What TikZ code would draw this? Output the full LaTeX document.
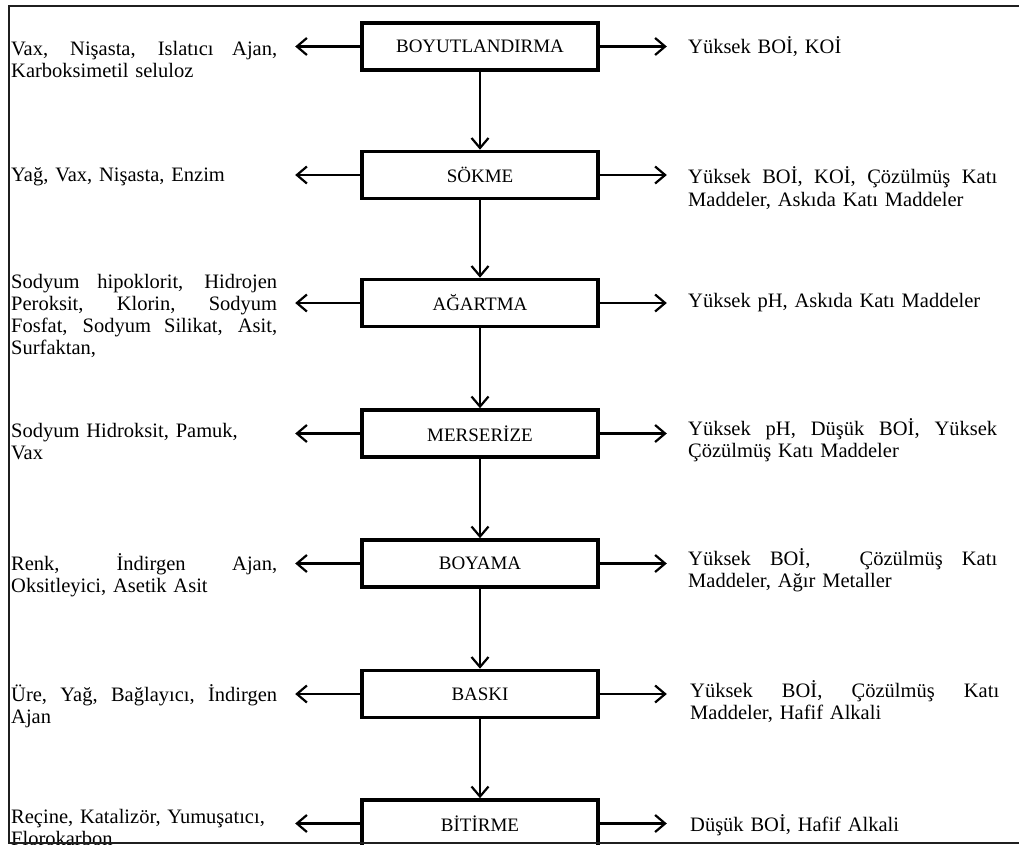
\documentclass[tikz,border=0pt]{standalone}
\usepackage{fontspec}
\setmainfont{Liberation Serif}
\usetikzlibrary{arrows.meta}
\newcommand{\JL}[1]{{\spaceskip=0pt\xspaceskip=0pt\makebox[266pt][s]{#1}}}
\newcommand{\JR}[1]{{\spaceskip=0pt\xspaceskip=0pt\makebox[309pt][s]{#1}}}
\begin{document}
\begin{tikzpicture}[x=1pt,y=-1pt,
  stage/.style={draw, line width=3.6pt, minimum width=236pt, minimum height=47pt, inner sep=0pt, font=\fontsize{19}{22}\selectfont},
  flow/.style={line width=2.2pt, -{Straight Barb[length=10pt,width=17pt]}},
  sidetext/.style={anchor=base west, inner sep=0pt, align=left, font=\fontsize{20.5}{22}\selectfont},
  lefttext/.style={sidetext, text width=266pt},
  righttext/.style={sidetext, text width=309pt},
  frameline/.style={line width=2pt, draw=black!88}]
\useasboundingbox (0,0) rectangle (1019,845);
\clip (0,0) rectangle (1019,845);
\fill[white] (0,0) rectangle (1019,845);

% stages
\node[stage] (b1) at (480,46.5) {BOYUTLANDIRMA};
\node[stage] (b2) at (480,175) {SÖKME};
\node[stage] (b3) at (480,303) {AĞARTMA};
\node[stage] (b4) at (480,433.5) {MERSERİZE};
\node[stage] (b5) at (480,563.5) {BOYAMA};
\node[stage] (b6) at (480,694) {BASKI};
\node[stage] (b7) at (480,823.5) {BİTİRME};

% vertical flow
\draw[flow] (b1) -- (b2);
\draw[flow] (b2) -- (b3);
\draw[flow] (b3) -- (b4);
\draw[flow] (b4) -- (b5);
\draw[flow] (b5) -- (b6);
\draw[flow] (b6) -- (b7);

% arrow ends
\foreach \i in {1,...,7}{
  \coordinate (l\i) at ([xshift=-65pt]b\i.west);
  \coordinate (r\i) at ([xshift=67pt]b\i.east);
  \draw[flow] (b\i.west) -- (l\i);
  \draw[flow] (b\i.east) -- (r\i);
}

% left texts
\node[lefttext] (lt1) at (11,56) {\JL{Vax, Nişasta, Islatıcı Ajan,}\\Karboksimetil seluloz};
\node[lefttext] (lt2) at (11,182) {Yağ, Vax, Nişasta, Enzim};
\node[lefttext] (lt3) at (11,288) {\JL{Sodyum hipoklorit, Hidrojen}\\\JL{Peroksit, Klorin, Sodyum}\\\JL{Fosfat, Sodyum Silikat, Asit,}\\Surfaktan,};
\node[lefttext] (lt4) at (11,437) {Sodyum Hidroksit, Pamuk,\\Vax};
\node[lefttext] (lt5) at (11,570) {\JL{Renk, İndirgen Ajan,}\\Oksitleyici, Asetik Asit};
\node[lefttext] (lt6) at (11,701) {\JL{Üre, Yağ, Bağlayıcı, İndirgen}\\Ajan};
\node[lefttext] (lt7) at (11,823) {Reçine, Katalizör, Yumuşatıcı,\\Florokarbon};

% right texts
\node[righttext] (rt1) at (688,54) {Yüksek BOİ, KOİ};
\node[righttext] (rt2) at (688,184) {\JR{Yüksek BOİ, KOİ, Çözülmüş Katı}\\Maddeler, Askıda Katı Maddeler};
\node[righttext] (rt3) at (688,307) {Yüksek pH, Askıda Katı Maddeler};
\node[righttext] (rt4) at (688,435) {\JR{Yüksek pH, Düşük BOİ, Yüksek}\\Çözülmüş Katı Maddeler};
\node[righttext] (rt5) at (688,565) {\JR{Yüksek BOİ,\hspace{30pt} Çözülmüş Katı}\\Maddeler, Ağır Metaller};
\node[righttext] (rt6) at (690,697) {\JR{Yüksek BOİ, Çözülmüş Katı}\\Maddeler, Hafif Alkali};
\node[righttext] (rt7) at (690,831) {Düşük BOİ, Hafif Alkali};

% frame
\draw[frameline] (1019,6) -- (9,6) -- (9,843) -- (1019,843);
\end{tikzpicture}
\end{document}
